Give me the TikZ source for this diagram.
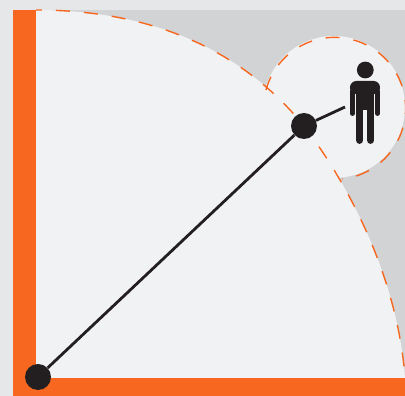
\documentclass[tikz,border=0pt]{standalone}
\usepackage{xcolor}
\usetikzlibrary{positioning}
\definecolor{pageGrey}{HTML}{E6E7E8}
\definecolor{shadeGrey}{HTML}{D1D3D4}
\definecolor{areaGrey}{HTML}{F1F2F4}
\definecolor{wallOrange}{HTML}{F76720}
\definecolor{inkBlack}{HTML}{231F20}
\begin{document}
\begin{tikzpicture}[
  x=0.75pt, y=0.75pt,
  hub/.style={circle, fill=inkBlack, inner sep=0pt, minimum size=19.5pt},
  head/.style={circle, fill=inkBlack, inner sep=0pt, minimum size=12.6pt},
  reach/.style={draw=wallOrange, line width=1.05pt, dash pattern=on 10.5pt off 10.5pt},
  beam/.style={draw=inkBlack, line width=2.1pt},
  arm/.style={draw=inkBlack, line width=3.5pt, line cap=round},
  leg/.style={draw=inkBlack, line width=5.6pt, line cap=round}
]
  \useasboundingbox (0,0) rectangle (405,396);
  \fill[pageGrey] (0,0) rectangle (405,396);
  \fill[shadeGrey] (13,0) rectangle (405,386);
  % swept area
  \fill[areaGrey] (36,18) -- (36,386) .. controls (146,386) and (239,350) .. (304,270)
    .. controls (350,210) and (398,116) .. (405,18) -- cycle;
  \fill[areaGrey] (334,289) circle[radius=71];
  % walls
  \fill[wallOrange] (13,0) rectangle (36,386);
  \fill[wallOrange] (13,0) rectangle (405,18);
  % reach limits
  \draw[reach, dash phase=6pt] (36,386) .. controls (146,386) and (239,350) .. (304,270)
    .. controls (350,210) and (398,116) .. (405,18);
  \draw[reach] (266,306) arc[start angle=165, end angle=-84, radius=71];
  % arm
  \node[hub] (origin) at (38,19) {};
  \node[hub] (joint) at (304,270) {};
  \coordinate (tip) at (345,289);
  \draw[beam] (origin) -- (joint);
  \draw[beam] (joint) -- (tip);
  % person
  \node[head] (person) at (365.3,326) {};
  \fill[inkBlack, rounded corners=4.8pt] (350,302) rectangle (380,315);
  \fill[inkBlack] (356,286) rectangle (374.4,310);
  \draw[arm] (352.4,305) -- (352.4,282.4);
  \draw[arm] (377.6,305) -- (377.6,282.4);
  \draw[leg] (359.7,287) -- (359.7,255.8);
  \draw[leg] (370.6,287) -- (370.6,255.8);
\end{tikzpicture}
\end{document}
